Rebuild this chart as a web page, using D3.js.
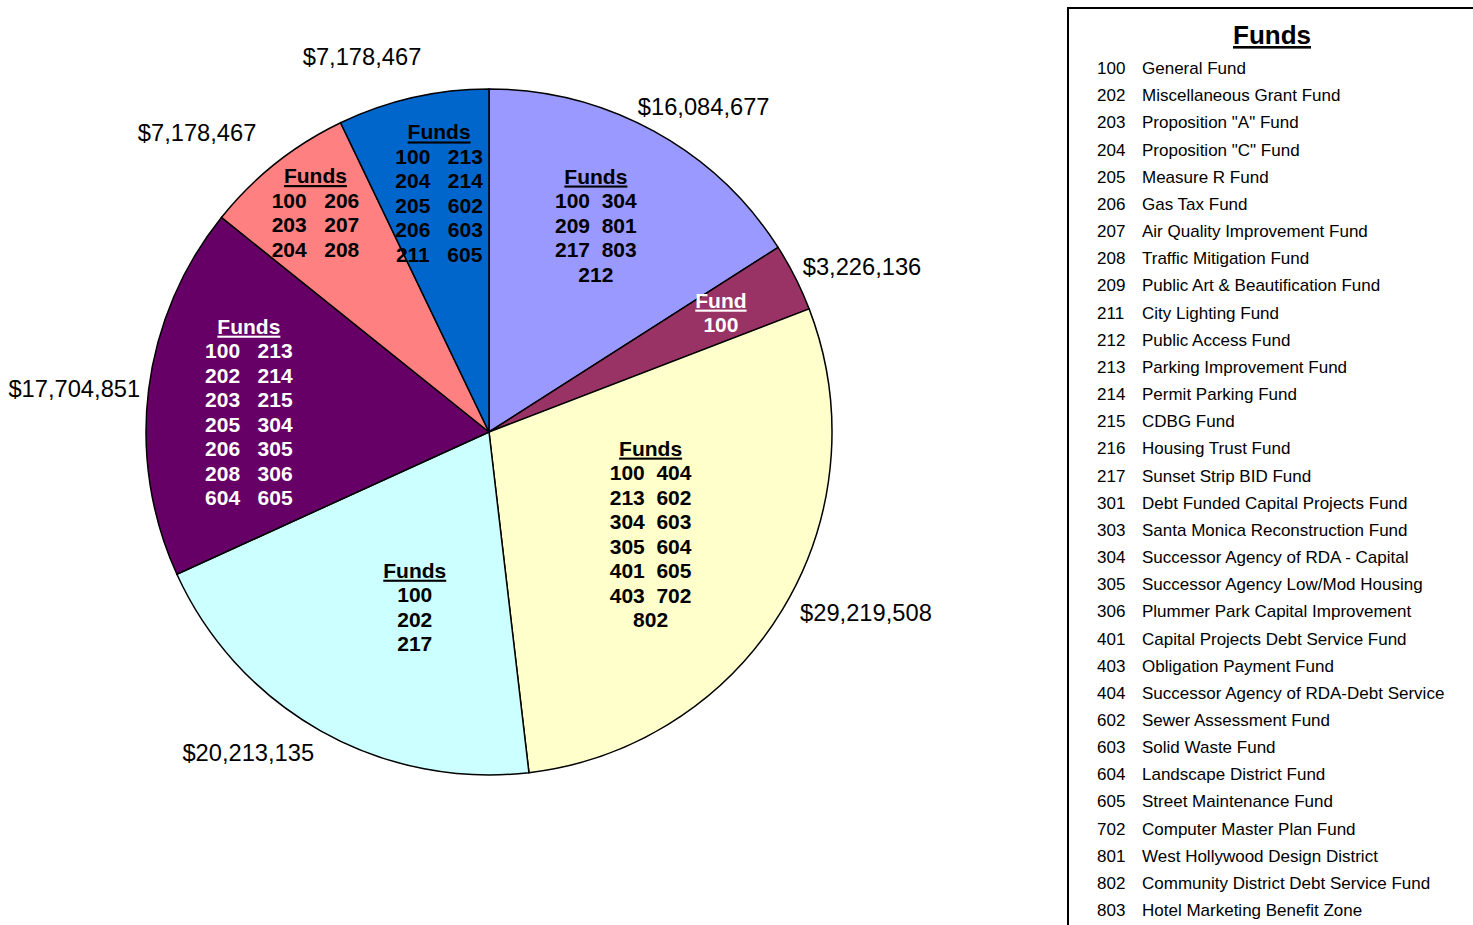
<!DOCTYPE html>
<html lang="en">
<head>
<meta charset="utf-8">
<title>Funds pie</title>
<script src="https://d3js.org/d3.v7.min.js"></script>
<style>
  body { margin: 0; background: #fff; }
  svg { display: block; font-family: "Liberation Sans", Arial, sans-serif; }
  .slice-label { font-weight: bold; font-size: 21px; }
  .u { text-decoration: underline; }
</style>
</head>
<body>
<script>
// data: slices clockwise from 12 o'clock
const amounts = [16084677, 3226136, 29219508, 20213135, 17704851, 7178467, 7178467];
const sliceColors = ["#9999FF", "#993366", "#FFFFCC", "#CCFFFF", "#660066", "#FF8080", "#0066CC"];
const sliceTextColors = ["#000", "#fff", "#000", "#000", "#fff", "#000", "#000"];
const sliceHeaders = ["Funds", "Fund", "Funds", "Funds", "Funds", "Funds", "Funds"];
const sliceFunds = [
  ["100  304", "209  801", "217  803", "212"],
  ["100"],
  ["100  404", "213  602", "304  603", "305  604", "401  605", "403  702", "802"],
  ["100", "202", "217"],
  ["100   213", "202   214", "203   215", "205   304", "206   305", "208   306", "604   605"],
  ["100   206", "203   207", "204   208"],
  ["100   213", "204   214", "205   602", "206   603", "211   605"]
];

const legendCodes = ["100","202","203","204","205","206","207","208","209","211","212","213","214","215","216","217",
  "301","303","304","305","306","401","403","404","602","603","604","605","702","801","802","803"];
const legendNames = ["General Fund","Miscellaneous Grant Fund","Proposition \"A\" Fund","Proposition \"C\" Fund",
  "Measure R Fund","Gas Tax Fund","Air Quality Improvement Fund","Traffic Mitigation Fund",
  "Public Art & Beautification Fund","City Lighting Fund","Public Access Fund","Parking Improvement Fund",
  "Permit Parking Fund","CDBG Fund","Housing Trust Fund","Sunset Strip BID Fund",
  "Debt Funded Capital Projects Fund","Santa Monica Reconstruction Fund","Successor Agency of RDA - Capital",
  "Successor Agency Low/Mod Housing","Plummer Park Capital Improvement","Capital Projects Debt Service Fund",
  "Obligation Payment Fund","Successor Agency of RDA-Debt Service","Sewer Assessment Fund","Solid Waste Fund",
  "Landscape District Fund","Street Maintenance Fund","Computer Master Plan Fund","West Hollywood Design District",
  "Community District Debt Service Fund","Hotel Marketing Benefit Zone"];

// label placement (angle in degrees from 12 o'clock, radius in px)
const innerLabelPlace = [[27.3, 233], [62.7, 261], [122.2, 191], [203, 190], [274.8, 241], [321.7, 280], [348.2, 244]];
const outerLabelPlace = [[33.4, 390], [66.1, 408], [115.6, 418], [216.9, 401], [276, 417], [315.7, 418], [341.3, 396]];

const W = 1473, H = 925;
const cx = 489, cy = 432, R = 343;
const lineH = 24.5;

const svg = d3.select("body").append("svg").attr("width", W).attr("height", H);

const pie = d3.pie().sort(null).value(d => d);
const arcs = pie(amounts);
const arc = d3.arc().innerRadius(0).outerRadius(R);

const g = svg.append("g").attr("transform", `translate(${cx},${cy})`);

g.selectAll("path.slice")
  .data(arcs)
  .enter()
  .append("path")
  .attr("class", "slice")
  .attr("d", arc)
  .attr("fill", (d, i) => sliceColors[i])
  .attr("stroke", "#000")
  .attr("stroke-width", 1.5);

function polar(deg, r) {
  const a = deg * Math.PI / 180;
  return [r * Math.sin(a), -r * Math.cos(a)];
}

// in-slice fund lists
arcs.forEach((d, i) => {
  const [x, y] = polar(innerLabelPlace[i][0], innerLabelPlace[i][1]);
  const lines = [sliceHeaders[i]].concat(sliceFunds[i]);
  const y0 = y - (lines.length - 1) * lineH / 2;
  const t = g.append("g").attr("class", "slice-label").attr("fill", sliceTextColors[i]);
  t.selectAll("text")
    .data(lines)
    .enter()
    .append("text")
    .attr("class", (s, j) => j === 0 ? "u" : null)
    .attr("xml:space", "preserve")
    .attr("x", x)
    .attr("y", (s, j) => y0 + j * lineH)
    .attr("dy", "0.36em")
    .attr("text-anchor", "middle")
    .text(s => s);
});

// outside value labels
const fmt = d3.format("$,");
g.selectAll("text.value")
  .data(arcs)
  .enter()
  .append("text")
  .attr("class", "value")
  .attr("x", (d, i) => polar(outerLabelPlace[i][0], outerLabelPlace[i][1])[0])
  .attr("y", (d, i) => polar(outerLabelPlace[i][0], outerLabelPlace[i][1])[1])
  .attr("dy", "0.36em")
  .attr("text-anchor", "middle")
  .attr("font-size", 23.7)
  .text(d => fmt(d.data));

// legend box
const lg = svg.append("g").attr("transform", "translate(1068,8)");
lg.append("rect")
  .attr("x", 0).attr("y", 0)
  .attr("width", 500).attr("height", 1000)
  .attr("fill", "#fff")
  .attr("stroke", "#000")
  .attr("stroke-width", 2);

lg.append("text")
  .attr("x", 204).attr("y", 36)
  .attr("text-anchor", "middle")
  .attr("font-size", 26)
  .attr("font-weight", "bold")
  .attr("text-decoration", "underline")
  .text("Funds");

const rowY = d3.scaleLinear().domain([0, legendCodes.length - 1]).range([60, 902]);

const rows = lg.selectAll("g.row")
  .data(legendCodes)
  .enter()
  .append("g")
  .attr("class", "row")
  .attr("transform", (d, i) => `translate(0,${rowY(i)})`);

rows.append("text")
  .attr("x", 29)
  .attr("dy", "0.36em")
  .attr("font-size", 17)
  .text(d => d);

rows.append("text")
  .attr("x", 74)
  .attr("dy", "0.36em")
  .attr("font-size", 17)
  .text((d, i) => legendNames[i]);
</script>
</body>
</html>
